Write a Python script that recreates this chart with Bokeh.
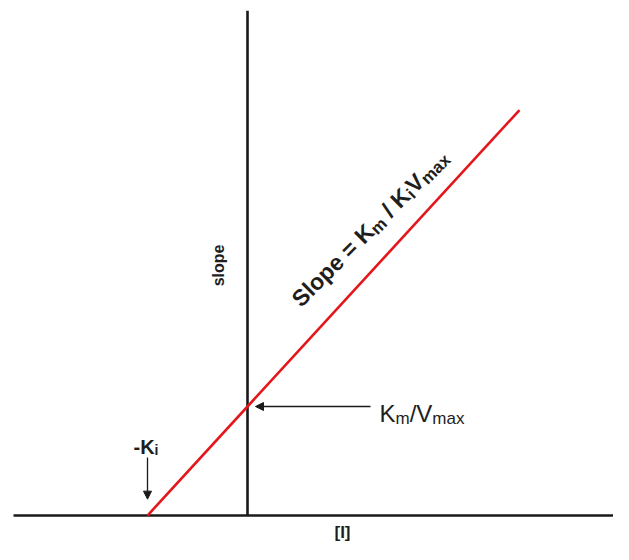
import math
from bokeh.plotting import figure
from bokeh.models import Range1d, Label, Arrow, NormalHead
from bokeh.embed import file_html
from bokeh.resources import INLINE

# ---- data (diagram units: [I] in units of Ki, slope in units of Km/Vmax) ----
KI = 1.0
KM_VMAX = 1.0
i_line = [-1.0, 2.72]          # [I] values of the red line
slope_line = [0.0, 3.72]       # slope values of the red line
x_axis_span = [-2.34, 3.82]    # horizontal axis extent
y_axis_span = [0.0, 4.63]      # vertical axis extent

FONT = "Liberation Sans"
TXT = "#1e1e1e"
NB = "\u00a0"

p = figure(width=613, height=544, x_range=Range1d(-2.47, 3.66),
           y_range=Range1d(-0.266, 4.725), min_border=0,
           toolbar_location=None, output_backend="svg",
           outline_line_color=None, background_fill_color="white",
           border_fill_color="white")
p.axis.visible = False
p.grid.visible = False

# axes
p.line(x_axis_span, [0, 0], line_color="#1a1a1a", line_width=2.6)
p.line([0, 0], y_axis_span, line_color="#1a1a1a", line_width=2.6)

# red line
p.line(i_line, slope_line, line_color="#e3161b", line_width=2.6)

# ---- rich text helper ----
BOLD_W = {' ': 278, NB: 278, '-': 333, '/': 278, '=': 584, 'K': 722, 'S': 667,
          'V': 667, 'a': 556, 'e': 556, 'i': 278, 'l': 278, 'm': 889, 'o': 611,
          'p': 611, 'x': 556}
REG_W = {' ': 278, NB: 278, '-': 333, '/': 278, '=': 584, 'K': 667, 'S': 667,
         'V': 667, 'a': 556, 'e': 556, 'i': 222, 'l': 222, 'm': 833, 'o': 556,
         'p': 556, 'x': 500}


def rich(x, y, parts, angle_deg=0.0, bold=False):
    th = math.radians(angle_deg)
    c, s = math.cos(th), math.sin(th)
    table = BOLD_W if bold else REG_W
    along = 0.0
    for text, size, shift in parts:
        xo = along * c - shift * s
        yo = along * s + shift * c
        p.add_layout(Label(x=x, y=y, text=text, angle=th, x_offset=xo, y_offset=yo,
                           text_font=FONT, text_font_size=f"{size}px",
                           text_font_style="bold" if bold else "normal",
                           text_color=TXT, text_align="left",
                           text_baseline="alphabetic"))
        along += sum(table.get(ch, 556) for ch in text) / 1000.0 * size


# Slope = Km / KiVmax along the line
rich(0.48, 1.954, [("Slope" + NB + "=" + NB + "K", 23, 0), ("m", 17, -5),
                   (NB + "/" + NB + "K", 23, 0), ("i", 17, -5), ("V", 23, 0),
                   ("max", 17, -5)],
     angle_deg=45, bold=True)

# Km/Vmax
rich(1.32, 0.936, [("K", 24, 0), ("m", 17, -5), ("/V", 24, 0), ("max", 17, -5)])

# -Ki
rich(-1.14, 0.633, [("-K", 20, 0), ("i", 14, -3.5)], bold=True)

# axis labels
p.add_layout(Label(x=-0.29, y=2.294, text="slope", angle=math.pi / 2,
                   text_font=FONT, text_font_size="16px", text_font_style="bold",
                   text_color=TXT, text_align="center", text_baseline="middle"))
p.add_layout(Label(x=0.95, y=-0.16, text="[I]", text_font=FONT,
                   text_font_size="17px", text_font_style="bold", text_color=TXT,
                   text_align="center", text_baseline="middle"))

# arrows
p.add_layout(Arrow(end=NormalHead(size=8, fill_color="#1a1a1a", line_color="#1a1a1a"),
                   x_start=1.23, y_start=KM_VMAX, x_end=0.08, y_end=KM_VMAX,
                   line_color="#1a1a1a", line_width=1.3))
p.add_layout(Arrow(end=NormalHead(size=8, fill_color="#1a1a1a", line_color="#1a1a1a"),
                   x_start=-KI, y_start=0.532, x_end=-KI, y_end=0.15,
                   line_color="#1a1a1a", line_width=1.3))

open("out.html", "w").write(file_html(p, INLINE))
